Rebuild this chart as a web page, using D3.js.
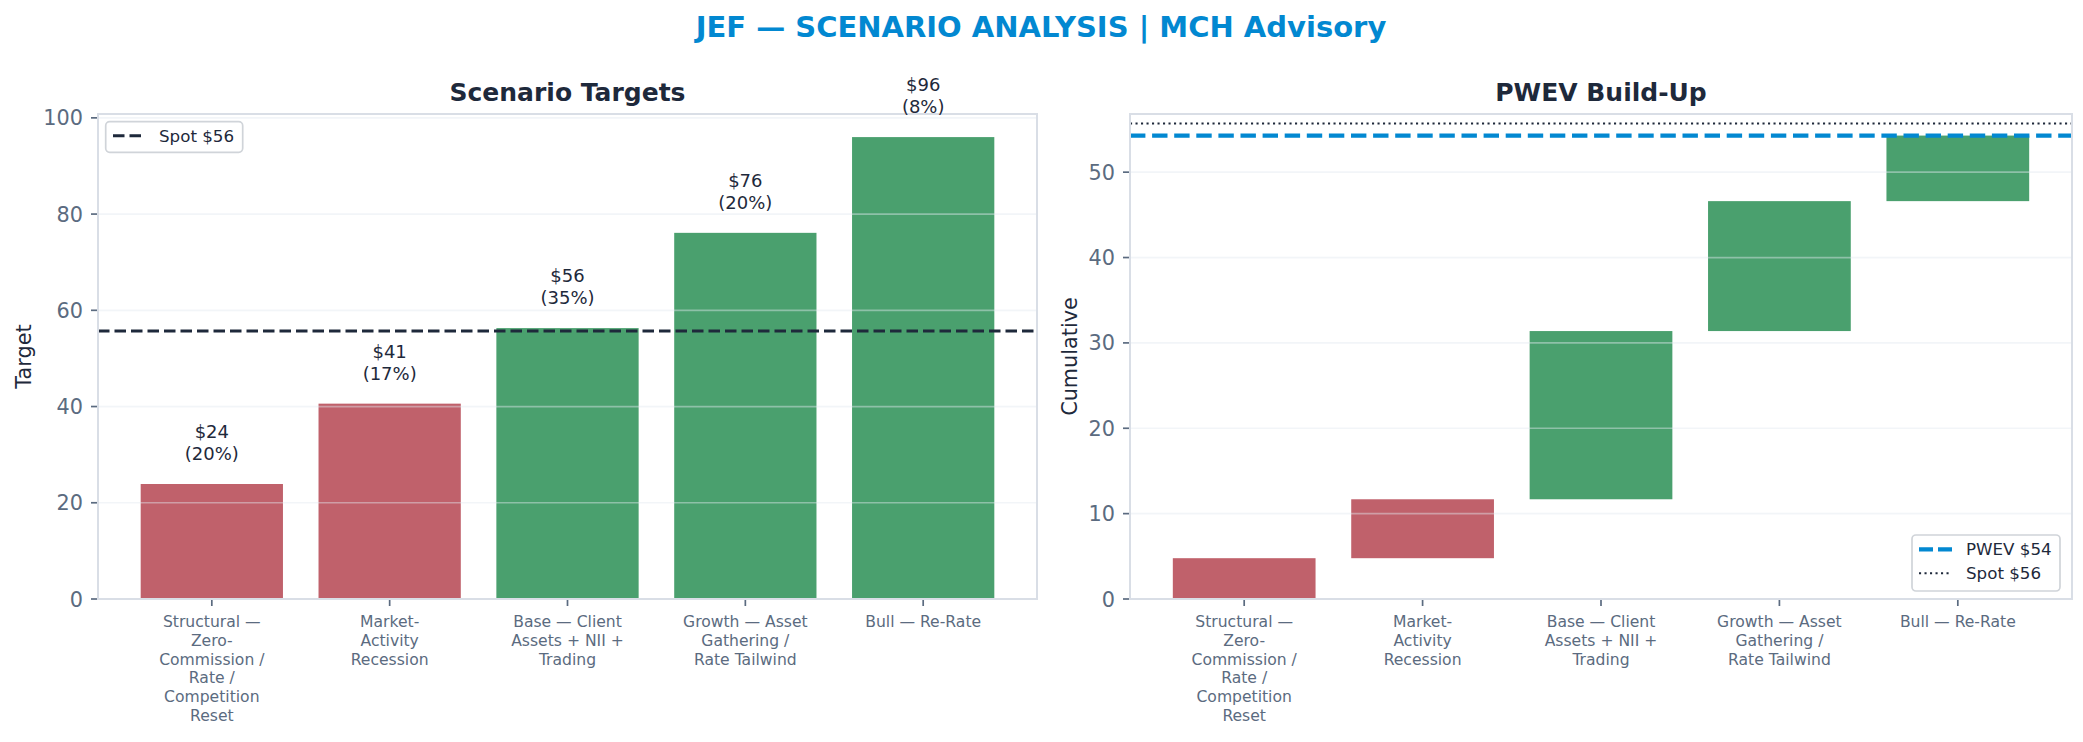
<!DOCTYPE html>
<html>
<head>
<meta charset="utf-8">
<script src="https://cdn.jsdelivr.net/npm/d3@7"></script>
<style>
  body { margin: 0; background: #fff; }
  text { font-family: "DejaVu Sans", sans-serif; }
</style>
</head>
<body>
<svg id="chart" width="2083" height="742"></svg>
<script>
// scenario data
var scenarios = [
  'Structural —\nZero-\nCommission /\nRate /\nCompetition\nReset',
  'Market-\nActivity\nRecession',
  'Base — Client\nAssets + NII +\nTrading',
  'Growth — Asset\nGathering /\nRate Tailwind',
  'Bull — Re-Rate'
]
var targets = [23.9, 40.6, 56.3, 76.1, 96.0]
var probs = [0.20, 0.17, 0.35, 0.20, 0.08]
var spot = 55.7
var leftTicks = [0, 20, 40, 60, 80, 100]
var rightTicks = [0, 10, 20, 30, 40, 50]

var red = '#c0616b'
var green = '#4aa06e'
var ink = '#1e293b'
var slate = '#5b6b80'
var spineColor = '#d9dee6'
var blue = '#0288d1'

var plotTop = 114
var plotBottom = 599

// cumulative probability weighted build-up
var starts = []
var ends = []
var run = 0
for (var i = 0; i < targets.length; i++) {
  starts.push(run)
  run += targets[i] * probs[i]
  ends.push(run)
}
var pwev = run

var svg = d3.select('#chart')

svg.append('text')
  .attr('x', 1041)
  .attr('y', 37)
  .attr('text-anchor', 'middle')
  .attr('font-size', 29)
  .attr('font-weight', 'bold')
  .attr('fill', blue)
  .text('JEF — SCENARIO ANALYSIS | MCH Advisory')

function barColor (i) {
  return targets[i] < spot ? red : green
}

function panel (left, right, ymax, ticks, title, ylabel, labelX) {
  var x = d3.scaleLinear().domain([-0.64, scenarios.length - 0.36]).range([left, right])
  var y = d3.scaleLinear().domain([0, ymax]).range([plotBottom, plotTop])
  var g = svg.append('g')

  svg.append('text')
    .attr('x', (left + right) / 2)
    .attr('y', 101)
    .attr('text-anchor', 'middle')
    .attr('font-size', 25)
    .attr('font-weight', 'bold')
    .attr('fill', ink)
    .text(title)

  svg.append('text')
    .attr('transform', 'translate(' + labelX + ',' + (plotTop + plotBottom) / 2 + ') rotate(-90)')
    .attr('text-anchor', 'middle')
    .attr('font-size', 20.8)
    .attr('fill', ink)
    .text(ylabel)

  // y ticks
  var yt = svg.append('g')
  yt.selectAll('line').data(ticks).enter().append('line')
    .attr('x1', left - 7).attr('x2', left)
    .attr('y1', function (d) { return y(d) })
    .attr('y2', function (d) { return y(d) })
    .attr('stroke', slate).attr('stroke-width', 1.7)
  yt.selectAll('text').data(ticks).enter().append('text')
    .attr('x', left - 15)
    .attr('y', function (d) { return y(d) + 7.5 })
    .attr('text-anchor', 'end')
    .attr('font-size', 20.8)
    .attr('fill', slate)
    .text(function (d) { return d })

  // x ticks
  var xt = svg.append('g')
  xt.selectAll('line').data(scenarios).enter().append('line')
    .attr('x1', function (d, i) { return x(i) })
    .attr('x2', function (d, i) { return x(i) })
    .attr('y1', plotBottom).attr('y2', plotBottom + 7)
    .attr('stroke', slate).attr('stroke-width', 1.7)
  xt.selectAll('text').data(scenarios).enter().append('text')
    .attr('text-anchor', 'middle')
    .attr('font-size', 15.6)
    .attr('fill', slate)
    .each(function (d, i) {
      var t = d3.select(this)
      d.split('\n').forEach(function (line, k) {
        t.append('tspan')
          .attr('x', x(i))
          .attr('y', 627 + k * 18.8)
          .text(line)
      })
    })

  return { x: x, y: y, g: g, left: left, right: right, ticks: ticks }
}

function grid (p) {
  // grid drawn over the bars
  p.g.selectAll('.grid').data(p.ticks).enter().append('line')
    .attr('class', 'grid')
    .attr('x1', p.left).attr('x2', p.right)
    .attr('y1', function (d) { return p.y(d) })
    .attr('y2', function (d) { return p.y(d) })
    .attr('stroke', '#e2e8f0')
    .attr('stroke-opacity', 0.45)
    .attr('stroke-width', 1.7)
}

function spines (p) {
  svg.append('rect')
    .attr('x', p.left).attr('y', plotTop)
    .attr('width', p.right - p.left).attr('height', plotBottom - plotTop)
    .attr('fill', 'none')
    .attr('stroke', spineColor)
    .attr('stroke-width', 2)
}

// left panel: scenario targets
var L = panel(98, 1037, d3.max(targets) * 1.05, leftTicks, 'Scenario Targets', 'Target', 31)

L.g.selectAll('rect').data(targets).enter().append('rect')
  .attr('x', function (d, i) { return L.x(i - 0.4) })
  .attr('width', L.x(0.8) - L.x(0))
  .attr('y', function (d) { return L.y(d) })
  .attr('height', function (d) { return L.y(0) - L.y(d) })
  .attr('fill', function (d, i) { return barColor(i) })

grid(L)

L.g.append('line')
  .attr('x1', L.left).attr('x2', L.right)
  .attr('y1', L.y(spot)).attr('y2', L.y(spot))
  .attr('stroke', ink).attr('stroke-width', 3)
  .attr('stroke-dasharray', '11.5,5')

spines(L)

var vals = svg.append('g').selectAll('text').data(targets).enter().append('text')
  .attr('text-anchor', 'middle')
  .attr('font-size', 18)
  .attr('fill', ink)
vals.append('tspan')
  .attr('x', function (d, i) { return L.x(i) })
  .attr('y', function (d) { return L.y(d) - 46 })
  .text(function (d) { return '$' + Math.round(d) })
vals.append('tspan')
  .attr('x', function (d, i) { return L.x(i) })
  .attr('y', function (d) { return L.y(d) - 24 })
  .text(function (d, i) { return '(' + Math.round(probs[i] * 100) + '%)' })

var leg1 = svg.append('g')
leg1.append('rect')
  .attr('x', 105.7).attr('y', 121.7).attr('width', 137).attr('height', 30.6)
  .attr('rx', 4).attr('fill', '#fff').attr('fill-opacity', 0.8)
  .attr('stroke', '#d0d4d9').attr('stroke-width', 1.7)
leg1.append('line')
  .attr('x1', 113).attr('x2', 142).attr('y1', 135.7).attr('y2', 135.7)
  .attr('stroke', ink).attr('stroke-width', 3).attr('stroke-dasharray', '11.5,5')
leg1.append('text')
  .attr('x', 159).attr('y', 141.7)
  .attr('font-size', 16.7).attr('fill', ink)
  .text('Spot $' + Math.round(spot))

// right panel: PWEV build-up
var R = panel(1130, 2072, Math.max(spot, pwev) * 1.02, rightTicks, 'PWEV Build-Up', 'Cumulative', 1077)

R.g.selectAll('rect').data(targets).enter().append('rect')
  .attr('x', function (d, i) { return R.x(i - 0.4) })
  .attr('width', R.x(0.8) - R.x(0))
  .attr('y', function (d, i) { return R.y(ends[i]) })
  .attr('height', function (d, i) { return R.y(starts[i]) - R.y(ends[i]) })
  .attr('fill', function (d, i) { return barColor(i) })

grid(R)

R.g.append('line')
  .attr('x1', R.left).attr('x2', R.right)
  .attr('y1', R.y(pwev)).attr('y2', R.y(pwev))
  .attr('stroke', blue).attr('stroke-width', 4.2)
  .attr('stroke-dasharray', '15.4,6.7')

R.g.append('line')
  .attr('x1', R.left).attr('x2', R.right)
  .attr('y1', R.y(spot)).attr('y2', R.y(spot))
  .attr('stroke', ink).attr('stroke-width', 2)
  .attr('stroke-dasharray', '2.1,3.4')

spines(R)

var leg2 = svg.append('g')
leg2.append('rect')
  .attr('x', 1912).attr('y', 535).attr('width', 148).attr('height', 56)
  .attr('rx', 4).attr('fill', '#fff').attr('fill-opacity', 0.8)
  .attr('stroke', '#d0d4d9').attr('stroke-width', 1.7)
leg2.append('line')
  .attr('x1', 1919).attr('x2', 1952).attr('y1', 549.3).attr('y2', 549.3)
  .attr('stroke', blue).attr('stroke-width', 4.2).attr('stroke-dasharray', '14,5')
leg2.append('text')
  .attr('x', 1966).attr('y', 555.3)
  .attr('font-size', 16.7).attr('fill', ink)
  .text('PWEV $' + Math.round(pwev))
leg2.append('line')
  .attr('x1', 1919).attr('x2', 1952).attr('y1', 573.3).attr('y2', 573.3)
  .attr('stroke', ink).attr('stroke-width', 2).attr('stroke-dasharray', '2.1,3.4')
leg2.append('text')
  .attr('x', 1966).attr('y', 579.3)
  .attr('font-size', 16.7).attr('fill', ink)
  .text('Spot $' + Math.round(spot))
</script>
</body>
</html>
